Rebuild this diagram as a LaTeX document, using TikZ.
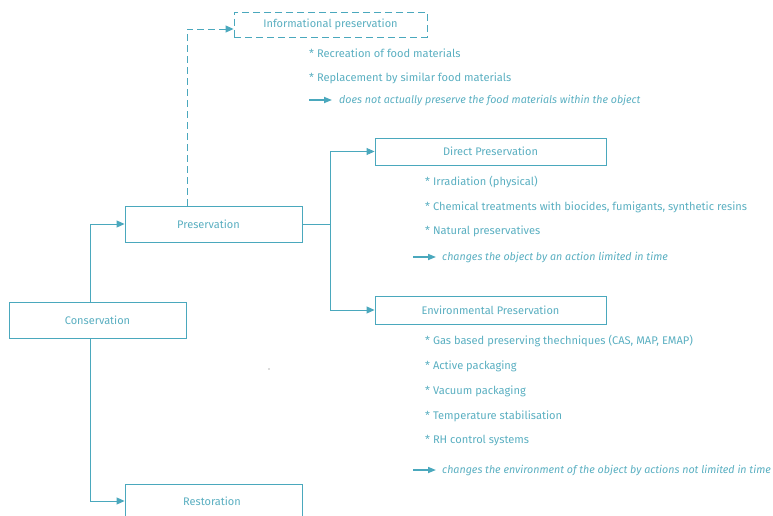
\documentclass[tikz,border=0pt]{standalone}
\usepackage{fontspec}
\setmainfont{Fira Sans}
\usetikzlibrary{arrows.meta}
\definecolor{teal1}{HTML}{4AA8BD}
\definecolor{tealtext}{HTML}{5AAFC1}
\tikzset{
  box/.style={draw=teal1, line width=0.9pt, fill=white, inner sep=0pt,
              text=tealtext, font=\fontsize{11}{13}\selectfont},
  dashbox/.style={box, dash pattern=on 7pt off 4pt},
  link/.style={draw=teal1, line width=0.9pt, -{Triangle[length=8pt,width=7pt]}},
  dashlink/.style={link, dash pattern=on 7pt off 4pt},
  item/.style={anchor=west, inner sep=0pt, text=tealtext, font=\fontsize{11.1}{13}\selectfont},
  note/.style={item, font=\fontsize{10.7}{13}\selectfont\itshape},
  pointer/.style={draw=teal1, line width=1.6pt, -{Triangle[length=8pt,width=6pt]}}
}
\begin{document}
\begin{tikzpicture}[x=1pt,y=-1pt]
\useasboundingbox (0,0) rectangle (773,516);
\clip (0,0) rectangle (773,516);

% boxes
\node[dashbox, minimum width=193pt, minimum height=25pt] (info) at (330.5,24.5) {Informational preservation};
\node[box, minimum width=177pt, minimum height=36pt] (pres) at (213.5,224) {\makebox[0pt]{\hspace*{-10pt}Preservation}};
\node[box, minimum width=177pt, minimum height=36pt] (cons) at (97.5,320) {Conservation};
\node[box, minimum width=231pt, minimum height=27pt] (direct) at (490.5,151.5) {Direct Preservation};
\node[box, minimum width=231pt, minimum height=28pt] (env) at (490.5,310) {Environmental Preservation};
\node[box, minimum width=177pt, minimum height=40pt, anchor=north] (rest) at (213.5,484) {};
\node[text=tealtext, font=\fontsize{11}{13}\selectfont, inner sep=0pt] (resttxt) at (212,501) {Restoration};

% connectors
\coordinate (dashturn) at (187,29);
\draw[dashlink] (pres.north -| dashturn) -- (dashturn) -- (info.west |- dashturn);
\coordinate (consx) at (90,0);
\draw[link] (cons.north -| consx) |- (pres.west);
\draw[link] (cons.south -| consx) |- (rest.west |- resttxt);
\coordinate (split) at (330,224);
\draw[draw=teal1, line width=0.9pt] (pres.east) -- (split);
\draw[link] (split) |- (direct.west);
\draw[link] (split) |- (env.west);

% informational preservation
\node[item] (i1) at (309,53) {* Recreation of food materials};
\node[item] (i2) at (309,78) {* Replacement by similar food materials};
\coordinate (p1) at (309,100);
\node[note] (n1) at (339,100) {does not actually preserve the food materials within the object};
\draw[pointer] (p1) -- ++(23,0);

% direct preservation
\node[item] (d1) at (425,182) {* Irradiation (physical)};
\node[item] (d2) at (425,207) {* Chemical treatments with biocides, fumigants, synthetic resins};
\node[item] (d3) at (425,231) {* Natural preservatives};
\coordinate (p2) at (413,257);
\node[note] (n2) at (442,257) {changes the object by an action limited in time};
\draw[pointer] (p2) -- ++(23,0);

% environmental preservation
\node[item] (e1) at (425,341) {* Gas based preserving thechniques (CAS, MAP, EMAP)};
\node[item] (e2) at (425,366) {* Active packaging};
\node[item] (e3) at (425,391) {* Vacuum packaging};
\node[item] (e4) at (425,416) {* Temperature stabilisation};
\node[item] (e5) at (425,441) {* RH control systems};
\coordinate (p3) at (413,470);
\node[note] (n3) at (442,470) {changes the environment of the object by actions not limited in time};
\draw[pointer] (p3) -- ++(23,0);

% stray mark
\fill[black!60] (269,369) circle (0.6pt);
\end{tikzpicture}
\end{document}
